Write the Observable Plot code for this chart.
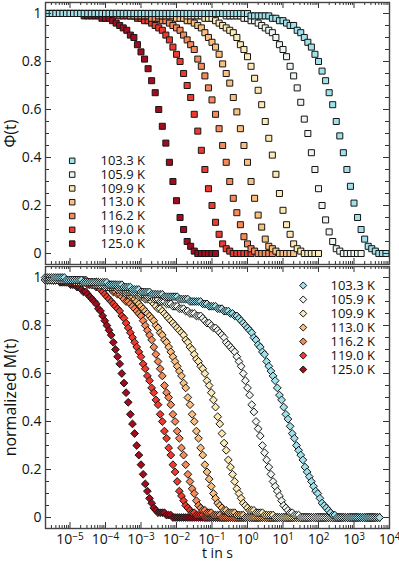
<!DOCTYPE html>
<html><head><meta charset="utf-8">
<script src="https://cdn.jsdelivr.net/npm/d3@7"></script>
<script src="https://cdn.jsdelivr.net/npm/@observablehq/plot@0.6"></script>
<style>
html,body{margin:0;padding:0;background:#fff;}
#chart{width:399px;height:563px;overflow:hidden;background:#fff;}
#chart svg{display:block;}
</style></head><body><div id="chart"></div>
<script>
// ---------- categories ----------
const temps = ["103.3","105.9","109.9","113.0","116.2","119.0","125.0"];
const colors = ["#a0e2ec","#eef6ef","#fde9b3","#fbbf80","#f58a5a","#ee3b30","#a10c1e"];

// ---------- top panel: Phi(t), log10(t) grid ----------
const phiLogT = [-5.6,-5.5,-5.4,-5.3,-5.2,-5.1,-5.0,-4.9,-4.8,-4.7,-4.6,-4.5,-4.4,-4.3,-4.2,-4.1,-4.0,-3.9,-3.8,-3.7,
-3.6,-3.5,-3.4,-3.3,-3.2,-3.1,-3.0,-2.9,-2.8,-2.7,-2.6,-2.5,-2.4,-2.3,-2.2,-2.1,-2.0,-1.9,-1.8,-1.7,
-1.6,-1.5,-1.4,-1.3,-1.2,-1.1,-1.0,-0.9,-0.8,-0.7,-0.6,-0.5,-0.4,-0.3,-0.2,-0.1,0.0,0.1,0.2,0.3,
0.4,0.5,0.6,0.7,0.8,0.9,1.0,1.1,1.2,1.3,1.4,1.5,1.6,1.7,1.8,1.9,2.0,2.1,2.2,2.3,
2.4,2.5,2.6,2.7,2.8,2.9,3.0,3.1,3.2,3.3,3.4,3.5,3.6,3.7,3.8,3.9];

const phi103 = [1,1,1,1,1,1,1,1,1,1, 1,1,1,1,1,1,1,1,1,1, 1,1,1,1,1,1,1,1,1,1, 1,1,1,1,1,1,1,1,1,1, 1,1,1,1,1,1,1,1,1,1,
1,1,1,1,1,1,1,.99,.99,.99, .99,.99,.99,.98,.98,.97,.97,.96,.95,.95, .93,.92,.90,.88,.86,.83,.80,.76,.72,.67,
.62,.55,.49,.42,.35,.28,.21,.15,.10,.06, .03,.02,.01,0,0,0];
const phi105 = [1,1,1,1,1,1,1,1,1,1, 1,1,1,1,1,1,1,1,1,1, 1,1,1,1,1,1,1,1,1,1, 1,1,1,1,1,1,1,1,1,1, 1,1,1,1,1,1,1,1,1,1,
.99,.99,.99,.99,.99,.98,.98,.97,.97,.96, .95,.94,.93,.92,.90,.87,.85,.82,.78,.74,
.69,.63,.56,.50,.42,.35,.27,.20,.14,.09, .05,.02,.01,0,0,0,0,0,0];
const phi109 = [1,1,1,1,1,1,1,1,1,1, 1,1,1,1,1,1,1,1,1,1, 1,1,1,1,1,1,1,1,1,1, 1,1,1,1,1,1,1,1,1,.99,
.99,.99,.99,.99,.98,.98,.98,.97,.96,.95, .94,.93,.92,.90,.87,.85,.82,.78,.73,.68,
.62,.55,.48,.41,.33,.25,.18,.12,.08,.04, .02,.01,0,0,0,0,0];
const phi113 = [1,1,1,1,1,1,1,1,1,1, 1,1,1,1,1,1,1,1,1,1, 1,1,1,1,1,1,1,1,1,1,
1,.99,.99,.99,.99,.99,.98,.98,.98,.97, .97,.96,.95,.94,.92,.90,.88,.86,.83,.79,
.75,.71,.65,.59,.52,.45,.38,.30,.23,.16, .11,.06,.03,.02,.01,0,0,0,0,0];
const phi116 = [1,1,1,1,1,1,1,1,1,1, 1,1,1,1,1,1,1,1,1,1,
1,1,1,.99,.99,.99,.99,.99,.99,.98, .98,.98,.97,.97,.96,.95,.94,.93,.91,.89,
.87,.85,.81,.78,.74,.69,.64,.58,.52,.45, .38,.30,.23,.17,.12,.07,.04,.02,.01,0, 0,0,0,0];
const phi119 = [1,1,1,1,1,1,1,1,1,1, 1,1,1,1,1,1,1,1,1,1,
.99,.99,.99,.99,.99,.98,.98,.97,.97,.96, .95,.94,.93,.91,.89,.86,.83,.80,.75,.70,
.65,.58,.51,.43,.35,.27,.20,.13,.08,.04, .02,.01,0,0,0,0,0,0];
const phi125 = [1,1,1,1,1,1,1,1,1,1, .99,.99,.99,.99,.99,.98,.98,.98,.97,.96,
.95,.94,.93,.91,.90,.87,.84,.81,.77,.72, .67,.60,.53,.46,.38,.30,.22,.15,.10,.05, .03,.01,0,0,0,0,0,0];

// ---------- bottom panel: normalized M(t), log10(t) grid ----------
const mLogT = [-5.70,-5.64,-5.58,-5.52,-5.46,-5.40,-5.34,-5.28,-5.22,-5.16,
-5.10,-5.04,-4.98,-4.92,-4.86,-4.80,-4.74,-4.68,-4.62,-4.56,
-4.50,-4.44,-4.38,-4.32,-4.26,-4.20,-4.14,-4.08,-4.02,-3.96,
-3.90,-3.84,-3.78,-3.72,-3.66,-3.60,-3.54,-3.48,-3.42,-3.36,
-3.30,-3.24,-3.18,-3.12,-3.06,-3.00,-2.94,-2.88,-2.82,-2.76,
-2.70,-2.64,-2.58,-2.52,-2.46,-2.40,-2.34,-2.28,-2.22,-2.16,
-2.10,-2.04,-1.98,-1.92,-1.86,-1.80,-1.74,-1.68,-1.62,-1.56,
-1.50,-1.44,-1.38,-1.32,-1.26,-1.20,-1.14,-1.08,-1.02,-0.96,
-0.90,-0.84,-0.78,-0.72,-0.66,-0.60,-0.54,-0.48,-0.42,-0.36,
-0.30,-0.24,-0.18,-0.12,-0.06,0.00,0.06,0.12,0.18,0.24,
0.30,0.36,0.42,0.48,0.54,0.60,0.66,0.72,0.78,0.84,
0.90,0.96,1.02,1.08,1.14,1.20,1.26,1.32,1.38,1.44,
1.50,1.56,1.62,1.68,1.74,1.80,1.86,1.92,1.98,2.04,
2.10,2.16,2.22,2.28,2.34,2.40,2.46,2.52,2.58,2.64,
2.70,2.76,2.82,2.88,2.94,3.00,3.06,3.12,3.18,3.24,
3.30,3.36,3.42,3.48,3.54,3.60,3.66,3.72];

const m103 = [1,1,1,1,1,1,1,1,1,1,
.99,.99,.99,.99,.99,.99,.99,.99,.98,.98,
.98,.98,.98,.98,.98,.98,.98,.98,.98,.98,
.97,.97,.97,.97,.97,.97,.97,.96,.96,.96,
.96,.95,.95,.95,.95,.94,.94,.94,.94,.94,
.93,.93,.93,.93,.93,.93,.92,.92,.92,.92,
.92,.92,.92,.91,.91,.91,.91,.91,.90,.90,
.90,.90,.90,.90,.89,.89,.89,.88,.88,.88,
.88,.87,.87,.87,.86,.86,.86,.85,.85,.84,
.84,.83,.82,.81,.80,.79,.78,.77,.75,.74,
.72,.71,.69,.68,.65,.63,.61,.59,.57,.54,
.51,.49,.46,.43,.41,.38,.35,.33,.30,.28,
.26,.24,.21,.19,.17,.15,.13,.11,.10,.08,
.06,.05,.04,.03,.02,.01,.01,0,0,0,
0,0,0,0,0,0,0,0,0,0,
0,0,0,0,0,0,0,0];
const m105 = [.99,.99,.99,.99,.99,.99,.99,.99,.99,.99,
.99,.99,.99,.99,.99,.99,.99,.99,.98,.98,
.98,.98,.98,.98,.98,.98,.97,.97,.97,.97,
.97,.97,.97,.97,.96,.96,.96,.96,.95,.95,
.95,.94,.94,.94,.94,.93,.93,.93,.92,.92,
.92,.91,.91,.91,.90,.90,.90,.89,.89,.89,
.88,.88,.88,.87,.87,.87,.86,.86,.85,.85,
.85,.84,.84,.84,.83,.82,.81,.81,.80,.79,
.79,.78,.77,.76,.75,.73,.72,.71,.70,.69,
.67,.65,.63,.60,.57,.54,.51,.47,.44,.40,
.37,.34,.30,.27,.24,.21,.18,.15,.13,.11,
.09,.07,.05,.04,.03,.02,.02,.01,.01,.01,
0,0,0,0,0,0,0,0,0,0,
0,0,0,0,0,0,0,0,0,0,
0,0,0,0,0,0,0,0,0,0,
0,0,0,0,0,0,0,0];
const m109 = [.99,.99,.99,.99,.99,.99,.99,.99,.99,.99,
.99,.99,.99,.99,.98,.98,.98,.98,.98,.98,
.98,.98,.98,.97,.97,.97,.97,.97,.96,.96,
.96,.96,.96,.96,.95,.95,.95,.95,.94,.94,
.94,.94,.93,.93,.92,.92,.92,.91,.91,.91,
.90,.89,.88,.87,.87,.86,.85,.84,.83,.82,
.81,.80,.79,.78,.77,.76,.74,.73,.71,.70,
.68,.66,.65,.63,.62,.60,.57,.55,.52,.49,
.46,.42,.39,.35,.31,.28,.24,.21,.18,.15,
.12,.10,.08,.06,.05,.04,.03,.03,.03,.02,
.02,.02,.02,.01,.01,.01,.01,.01,0,0,
0,0,0,0,0,0,0,0,0,0,
0,0,0,0,0,0,0,0,0,0,
0,0,0,0,0,0,0,0,0,0,
0,0,0,0,0,0,0,0,0,0,
0,0,0,0,0,0,0,0];
const m113 = [.99,.99,.99,.99,.99,.99,.99,.99,.99,.99,
.99,.99,.99,.99,.99,.98,.98,.98,.98,.98,
.98,.98,.97,.97,.97,.97,.97,.97,.97,.97,
.96,.96,.96,.96,.95,.95,.94,.94,.93,.93,
.92,.92,.91,.90,.89,.88,.87,.86,.85,.84,
.83,.82,.80,.79,.77,.76,.74,.73,.71,.69,
.67,.65,.63,.61,.59,.56,.54,.50,.47,.43,
.40,.36,.33,.29,.26,.22,.19,.16,.13,.10,
.08,.06,.05,.04,.03,.03,.02,.02,.02,.02,
.01,.01,.01,.01,0,0,0,0,0,0,
0,0,0,0,0,0,0,0,0,0,
0,0,0,0,0,0,0,0,0,0,
0,0,0,0,0,0,0,0,0,0,
0,0,0,0,0,0,0,0,0,0,
0,0,0,0,0,0,0,0,0,0,
0,0,0,0,0,0,0,0];
const m116 = [.99,.99,.99,.99,.99,.99,.99,.99,.99,.99,
.99,.99,.99,.99,.99,.99,.99,.99,.99,.99,
.98,.98,.98,.98,.98,.98,.97,.97,.97,.96,
.96,.95,.94,.94,.93,.93,.92,.91,.90,.90,
.89,.88,.87,.86,.85,.84,.82,.80,.78,.76,
.74,.71,.68,.65,.62,.59,.55,.52,.50,.47,
.43,.40,.36,.33,.29,.26,.22,.18,.15,.12,
.10,.07,.05,.04,.03,.03,.02,.02,.02,.01,
.01,.01,.01,0,0,0,0,0,0,0,
0,0,0,0,0,0,0,0,0,0,
0,0,0,0,0,0,0,0,0,0,
0,0,0,0,0,0,0,0,0,0,
0,0,0,0,0,0,0,0,0,0,
0,0,0,0,0,0,0,0,0,0,
0,0,0,0,0,0,0,0,0,0,
0,0,0,0,0,0,0,0];
const m119 = [.99,.99,.99,.99,.99,.99,.99,.99,.99,.99,
.98,.98,.98,.98,.98,.98,.98,.98,.98,.98,
.97,.97,.97,.97,.96,.96,.95,.94,.93,.92,
.91,.90,.89,.88,.87,.86,.84,.83,.81,.79,
.77,.75,.73,.71,.69,.67,.64,.62,.59,.57,
.54,.52,.49,.47,.43,.40,.36,.33,.29,.26,
.22,.19,.15,.11,.09,.07,.05,.04,.03,.02,
.02,.01,.01,.01,.01,0,0,0,0,0,
0,0,0,0,0,0,0,0,0,0,
0,0,0,0,0,0,0,0,0,0,
0,0,0,0,0,0,0,0,0,0,
0,0,0,0,0,0,0,0,0,0,
0,0,0,0,0,0,0,0,0,0,
0,0,0,0,0,0,0,0,0,0,
0,0,0,0,0,0,0,0,0,0,
0,0,0,0,0,0,0,0];
const m125 = [.99,.99,.99,.99,.99,.99,.99,.98,.98,.98,
.98,.98,.97,.97,.97,.96,.96,.95,.94,.94,
.93,.92,.91,.90,.89,.87,.86,.84,.82,.80,
.78,.76,.73,.70,.67,.64,.60,.56,.52,.48,
.43,.39,.35,.30,.26,.22,.18,.14,.11,.08,
.06,.04,.03,.02,.02,.02,.02,.01,.01,.01,
0,0,0,0,0,0,0,0,0,0,
0,0,0,0,0,0,0,0,0,0,
0,0,0,0,0,0,0,0,0,0,
0,0,0,0,0,0,0,0,0,0,
0,0,0,0,0,0,0,0,0,0,
0,0,0,0,0,0,0,0,0,0,
0,0,0,0,0,0,0,0,0,0,
0,0,0,0,0,0,0,0,0,0,
0,0,0,0,0,0,0,0,0,0,
0,0,0,0,0,0,0,0];

// ---------- ticks ----------
const xMajorTicks = [1e-5,1e-4,1e-3,1e-2,1e-1,1e0,1e1,1e2,1e3,1e4];
const xTickExponents = ["\u22125","\u22124","\u22123","\u22122","\u22121","0","1","2","3","4"];
const xMinorDecades = [1e-6,1e-5,1e-4,1e-3,1e-2,1e-1,1e0,1e1,1e2,1e3];
const xMinorMultipliers = [2,3,4,5,6,7,8,9];
const yMajorTicks = [0,0.2,0.4,0.6,0.8,1];
const yTickLabels = ["0","0.2","0.4","0.6","0.8","1"];
const yMinorTicks = [0.05,0.1,0.15,0.25,0.3,0.35,0.45,0.5,0.55,0.65,0.7,0.75,0.85,0.9,0.95];

const xDomain = [Math.pow(10,-5.69), 1e4];
const yDomain = [-0.0458, 1.0458];
const xMinorTicks = xMinorDecades.flatMap(d => xMinorMultipliers.map(m => m*d))
  .filter(v => v > xDomain[0] && v < xDomain[1]);

const phiSeries = [phi103,phi105,phi109,phi113,phi116,phi119,phi125];
const mSeries = [m103,m105,m109,m113,m116,m119,m125];

const W = 399, ML = 45, MR = 10;
const tickColor = "#333";

function panel(opts) {
  const {logT, series, symbol, r, legR, height, marginTop, marginBottom, ylabel,
         legDx, legDy0, legStep, legTextDx, showX} = opts;
  const frameW = W - ML - MR, frameH = height - marginTop - marginBottom;
  const marks = [];
  // data, warmest drawn first, coldest on top
  for (let s = series.length - 1; s >= 0; s--) {
    const rows = series[s].map((v, i) => ({t: Math.pow(10, logT[i]), v}));
    marks.push(Plot.dot(rows, {x: "t", y: "v", symbol, r, fill: colors[s],
      stroke: "#151515", strokeWidth: 1}));
  }
  // inward ticks
  marks.push(Plot.ruleX(xMajorTicks, {insetTop: frameH - 6, stroke: tickColor}));
  marks.push(Plot.ruleX(xMinorTicks, {insetTop: frameH - 3, stroke: tickColor}));
  marks.push(Plot.ruleX(xMajorTicks, {insetBottom: frameH - 6, stroke: tickColor}));
  marks.push(Plot.ruleX(xMinorTicks, {insetBottom: frameH - 3, stroke: tickColor}));
  marks.push(Plot.ruleY(yMajorTicks, {insetRight: frameW - 6, stroke: tickColor}));
  marks.push(Plot.ruleY(yMinorTicks, {insetRight: frameW - 4, stroke: tickColor}));
  marks.push(Plot.ruleY(yMajorTicks, {insetLeft: frameW - 6, stroke: tickColor}));
  marks.push(Plot.ruleY(yMinorTicks, {insetLeft: frameW - 4, stroke: tickColor}));
  marks.push(Plot.frame({stroke: "#444", strokeWidth: 1.4}));
  // y axis labels
  marks.push(Plot.axisY(yMajorTicks, {tickSize: 0, tickPadding: 4, label: null,
    tickFormat: d => yTickLabels[yMajorTicks.indexOf(d)], fontSize: 14}));
  marks.push(Plot.text([ylabel], {frameAnchor: "left", dx: -35, rotate: -90,
    fontSize: 16, textAnchor: "middle", lineAnchor: "middle"}));
  if (showX) {
    marks.push(Plot.axisX(xMajorTicks, {tickSize: 0, tickPadding: 6, label: null,
      tickFormat: d => "10|" + xTickExponents[xMajorTicks.indexOf(d)], fontSize: 14}));
    marks.push(Plot.text(["t in s"], {frameAnchor: "bottom", dy: 25, fontSize: 14,
      lineAnchor: "middle"}));
  }
  // legend
  temps.forEach((T, i) => {
    marks.push(Plot.dot([T], {frameAnchor: "top-left", dx: legDx, dy: legDy0 + i*legStep,
      symbol, r: legR, fill: colors[i], stroke: "#151515", strokeWidth: 1}));
    marks.push(Plot.text([T + " K"], {frameAnchor: "top-left", dx: legTextDx,
      dy: legDy0 + i*legStep, textAnchor: "start", lineAnchor: "middle", fontSize: 13}));
  });
  const svg = Plot.plot({
    width: W, height, marginLeft: ML, marginRight: MR, marginTop, marginBottom,
    x: Object.assign({type: "log", domain: xDomain}, showX ? {} : {axis: null}),
    y: {domain: yDomain},
    style: {fontFamily: "'Open Sans', sans-serif", fontSize: "13px", color: "#111", background: "#fff"},
    marks
  });
  // superscript exponents on x tick labels
  svg.querySelectorAll("text").forEach(t => {
    const s = t.textContent;
    if (s.indexOf("|") >= 0) {
      const [b, e] = s.split("|");
      t.textContent = b;
      const ts = document.createElementNS("http://www.w3.org/2000/svg", "tspan");
      ts.setAttribute("dy", "-0.45em");
      ts.setAttribute("font-size", "10");
      ts.textContent = e;
      t.appendChild(ts);
    }
  });
  return svg;
}

const chart = document.getElementById("chart");
chart.appendChild(panel({logT: phiLogT, series: phiSeries, symbol: "square", r: 3.4, legR: 3.1,
  height: 265, marginTop: 2, marginBottom: 1, ylabel: "\u03a6(t)",
  legDx: 26.7, legDy0: 158.3, legStep: 13.8, legTextDx: 55, showX: false}));
chart.appendChild(panel({logT: mLogT, series: mSeries, symbol: "diamond2", r: 3.5, legR: 3.2,
  height: 298, marginTop: 1, marginBottom: 35, ylabel: "normalized M(t)",
  legDx: 257.7, legDy0: 19, legStep: 14, legTextDx: 285, showX: true}));
</script>
</body></html>
